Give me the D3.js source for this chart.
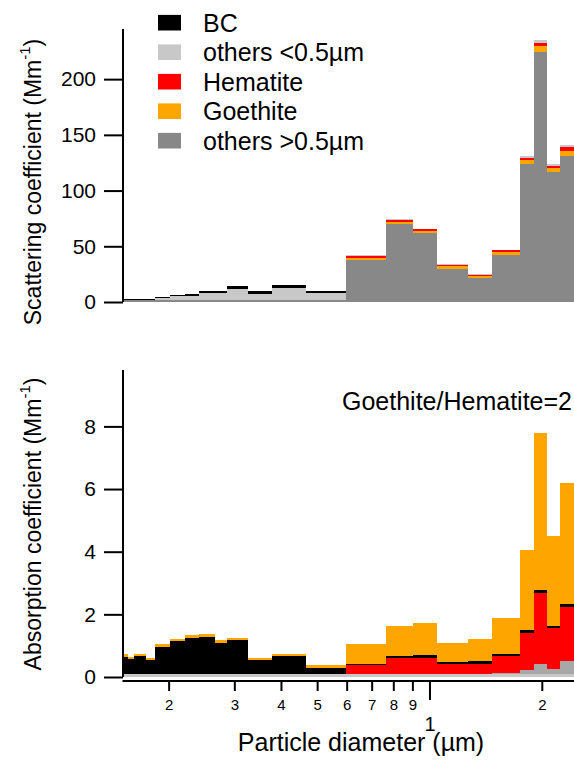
<!DOCTYPE html>
<html><head><meta charset="utf-8">
<script src="https://cdn.jsdelivr.net/npm/d3@7"></script>
<style>
html,body{margin:0;padding:0;background:#fff;}
svg{display:block;font-family:"Liberation Sans",Arial,Helvetica,sans-serif;}
</style></head>
<body>
<svg id="chart" width="574" height="761"></svg>
<script>
// Bin edges (particle diameter, µm)
const binEdges = [0.15, 0.1553, 0.1611, 0.1729, 0.1834, 0.2012, 0.2203, 0.2407, 0.2652, 0.2861, 0.3251, 0.3777, 0.4651, 0.5953, 0.7646, 0.9003, 1.042, 1.264, 1.469, 1.743, 1.901, 2.055, 2.231, 2.432];

// Scattering coefficient components (Mm-1)
const othersGtSca = [2.0,2.0,2.0,2.0,2.2,2.2,2.2,2.2,2.2,2.2,2.2,2.2,2.2, 38.1,69.9,61.5,30.0,21.6,42.0,123.8,224.0,116.6,131.3];
const goethiteSca = [0,0,0,0,0,0,0,0,0,0,0,0,0, 1.5,2.1,2.1,2.0,1.8,3.0,3.6,5.4,3.6,4.5];
const hematiteSca = [0,0,0,0,0,0,0,0,0,0,0,0,0, 1.5,1.5,1.5,1.2,1.2,1.5,2.1,3.0,1.8,3.0];
const othersLtSca = [0,0,0,0,1.3,2.9,3.6,5.6,5.6,9.6,5.2,10.8,5.7, 0.8,0.6,0.8,0.7,0.3,0.3,1.5,3.0,1.8,2.0];
const bcSca       = [0.8,0.8,0.8,0.8,1.0,1.2,1.4,1.8,1.8,2.6,2.2,2.6,2.0, 0,0,0,0,0,0,0,0,0,0];

// Absorption coefficient components (Mm-1)
const othersLtAbs = [0.08,0.08,0.08,0.08,0.08,0.08,0.08,0.08,0.08,0.08,0.08,0.08,0.08, 0.08,0.08,0.08,0.08,0.08,0.08,0.08,0.08,0.08,0.08];
const othersGtAbs = [0,0,0,0,0,0,0,0,0,0,0,0,0, 0,0,0,0,0,0.04,0.14,0.35,0.18,0.43];
const hematiteAbs = [0,0,0,0,0,0,0,0,0,0,0,0,0, 0.29,0.52,0.53,0.32,0.35,0.55,1.17,2.26,1.30,1.74];
const bcAbs       = [0.57,0.49,0.59,0.45,0.87,1.06,1.16,1.19,1.0,1.1,0.46,0.58,0.2, 0.06,0.07,0.08,0.07,0.07,0.07,0.1,0.085,0.08,0.075];
const goethiteAbs = [0.07,0.08,0.08,0.08,0.09,0.08,0.09,0.09,0.09,0.08,0.08,0.09,0.1, 0.63,0.96,1.04,0.62,0.72,1.14,2.57,5.01,2.86,3.87];

// Axis ticks
const scaTicks = [0, 50, 100, 150, 200];
const absTicks = [0, 2, 4, 6, 8];
const xTicks = [0.2, 0.3, 0.4, 0.5, 0.6, 0.7, 0.8, 0.9, 1, 2];
const xTickLabels = ["2","3","4","5","6","7","8","9","1","2"];

const legendNames = ["BC", "others <0.5µm", "Hematite", "Goethite", "others >0.5µm"];
const legendColors = ["#000000", "#c8c8c8", "#ff0000", "#ffa500", "#888888"];

const svg = d3.select("#chart");
const x = d3.scaleLog().domain([binEdges[0], binEdges[binEdges.length-1]]).range([122.5, 574]);
const ySca = d3.scaleLinear().domain([0, 245]).range([302, 29]);
const yAbs = d3.scaleLinear().domain([0, 9.8]).range([677, 370]);

function drawStack(layers, yScale) {
  const n = binEdges.length - 1;
  const rows = d3.range(n).map(i => {
    const r = {i};
    layers.forEach((l, k) => r["k"+k] = l.values[i]);
    return r;
  });
  const stack = d3.stack().keys(layers.map((l,k) => "k"+k))(rows);
  const g = svg.append("g");
  stack.forEach((s, k) => {
    g.append("g").attr("fill", layers[k].color)
      .selectAll("rect").data(s).join("rect")
      .attr("x", d => x(binEdges[d.data.i]))
      .attr("width", d => x(binEdges[d.data.i+1]) - x(binEdges[d.data.i]))
      .attr("y", d => yScale(d[1]))
      .attr("height", d => Math.max(0, yScale(d[0]) - yScale(d[1])))
      .attr("shape-rendering", "crispEdges");
  });
}

// Top panel: scattering
drawStack([
  {values: othersGtSca, color: "#888888"},
  {values: goethiteSca, color: "#ffa500"},
  {values: hematiteSca, color: "#ff0000"},
  {values: othersLtSca, color: "#c8c8c8"},
  {values: bcSca, color: "#000000"}
], ySca);

// Bottom panel: absorption
drawStack([
  {values: othersLtAbs, color: "#c8c8c8"},
  {values: othersGtAbs, color: "#a8a8a8"},
  {values: hematiteAbs, color: "#ff0000"},
  {values: bcAbs, color: "#000000"},
  {values: goethiteAbs, color: "#ffa500"}
], yAbs);

// Y axes
function yAxis(scale, ticks, xPos) {
  const g = svg.append("g").attr("transform", `translate(${xPos},0)`);
  const ax = d3.axisLeft(scale).tickValues(ticks).tickSize(19).tickPadding(8).tickSizeOuter(0);
  g.call(ax);
  g.select(".domain").attr("stroke", "#000").attr("stroke-width", 2).attr("d", `M0,${scale.range()[0]}V${scale.range()[1]}`);
  g.selectAll(".tick line").attr("stroke", "#000").attr("stroke-width", 2);
  g.selectAll(".tick text").attr("font-size", 21).attr("fill", "#000").attr("font-family", "Liberation Sans, Arial, sans-serif");
}
yAxis(ySca, scaTicks, 123);
yAxis(yAbs, absTicks, 123);

// X axis (bottom)
const xg = svg.append("g").attr("transform", "translate(0,681)");
xg.append("line").attr("x1", 122.5).attr("x2", 574).attr("y1", 0).attr("y2", 0).attr("stroke", "#000").attr("stroke-width", 2);
xg.selectAll("line.tk").data(xTicks).join("line").attr("class","tk")
  .attr("x1", d => x(d)).attr("x2", d => x(d)).attr("y1", 0)
  .attr("y2", d => d === 1 ? 19 : 10).attr("stroke", "#000").attr("stroke-width", 2);
xg.selectAll("text.tl").data(xTicks).join("text").attr("class","tl")
  .attr("x", d => x(d)).attr("y", d => d === 1 ? 50 : 29)
  .attr("text-anchor", "middle").attr("font-size", (d) => d === 1 ? 20 : 15)
  .text((d,i) => xTickLabels[i]);

// Axis titles
svg.append("text").attr("x", 361).attr("y", 751).attr("text-anchor", "middle").attr("font-size", 25)
  .text("Particle diameter (µm)");

function yTitle(label, cx, cy) {
  const t = svg.append("text").attr("transform", `translate(${cx},${cy}) rotate(-90)`)
    .attr("text-anchor", "middle").attr("font-size", 23);
  t.append("tspan").text(label + " (Mm");
  t.append("tspan").attr("font-size", 15).attr("dy", -11).text("-1");
  t.append("tspan").attr("dy", 11).text(")");
}
yTitle("Scattering coefficient", 41, 182);
yTitle("Absorption coefficient", 41, 524);

// Annotation
svg.append("text").attr("x", 572).attr("y", 410).attr("text-anchor", "end").attr("font-size", 25)
  .text("Goethite/Hematite=2");

// Legend
const lg = svg.append("g");
const rowY = d3.scaleLinear().domain([0, 4]).range([22.7, 140.7]);
legendNames.forEach((name, i) => {
  lg.append("rect").attr("x", 158).attr("y", rowY(i) - 7.8).attr("width", 23).attr("height", 15.6).attr("fill", legendColors[i]);
  lg.append("text").attr("x", 203).attr("y", rowY(i) + 8.8).attr("font-size", 25).text(name);
});
</script>
</body></html>
